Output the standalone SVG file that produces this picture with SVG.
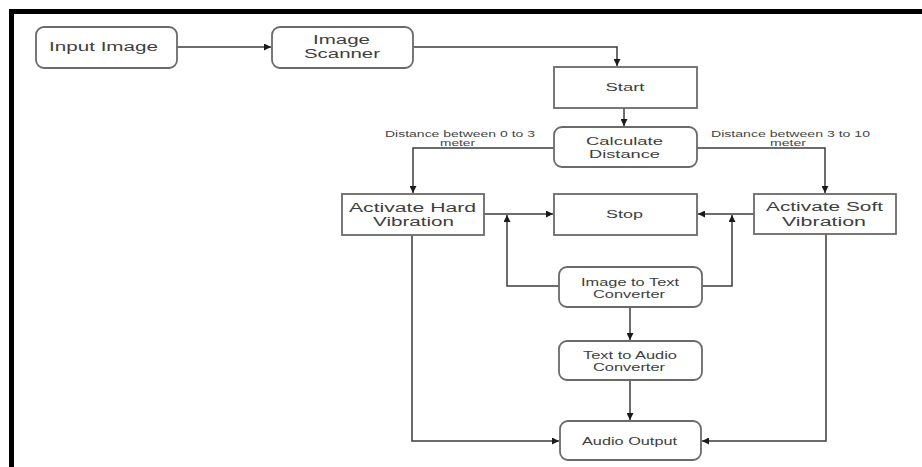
<svg xmlns="http://www.w3.org/2000/svg" width="922" height="467" viewBox="0 0 922 467">
  <style>
    .box { fill: #ffffff; stroke: #6a6a6a; stroke-width: 1.8; }
    .t { font-family: "Liberation Sans", Arial, sans-serif; fill: #3e3e3e; text-anchor: middle; dominant-baseline: central; }
    .big { font-size: 12.5px; }
    .mid { font-size: 11.5px; }
    .sm { font-size: 10px; }
    .lbl { font-size: 8.5px; fill: #444444; }
    .edge { fill: none; stroke: #3c3c3c; stroke-width: 1.5; }
  </style>
  <defs>
    <marker id="arrow" viewBox="0 0 10 10" refX="10" refY="5" markerWidth="8" markerHeight="7" markerUnits="userSpaceOnUse" orient="auto">
      <path d="M0,0 L10,5 L0,10 z" fill="#1a1a1a"/>
    </marker>
  </defs>

  <rect x="0" y="0" width="922" height="467" fill="#ffffff"/>

  <!-- frame: heavy top and left rule -->
  <path d="M11.5,467 L11.5,11.5 L922,11.5" fill="none" stroke="#000000" stroke-width="5"/>

  <!-- connectors -->
  <g id="connectors">
    <path class="edge" d="M177,47 L271,47" marker-end="url(#arrow)"/>
    <path class="edge" d="M413,47 L617,47 L617,66" marker-end="url(#arrow)"/>
    <path class="edge" d="M624,108 L624,126" marker-end="url(#arrow)"/>
    <path class="edge" d="M554,148 L413,148 L413,193" marker-end="url(#arrow)"/>
    <path class="edge" d="M697,148 L825,148 L825,193" marker-end="url(#arrow)"/>
    <path class="edge" d="M484,214 L553,214" marker-end="url(#arrow)"/>
    <path class="edge" d="M754,214 L698,214" marker-end="url(#arrow)"/>
    <path class="edge" d="M559,286 L507,286 L507,215" marker-end="url(#arrow)"/>
    <path class="edge" d="M702,286 L732,286 L732,215" marker-end="url(#arrow)"/>
    <path class="edge" d="M630,307 L630,340" marker-end="url(#arrow)"/>
    <path class="edge" d="M630,380 L630,420" marker-end="url(#arrow)"/>
    <path class="edge" d="M412,235 L412,441 L559,441" marker-end="url(#arrow)"/>
    <path class="edge" d="M826,234 L826,441 L702,441" marker-end="url(#arrow)"/>
    <text class="t lbl" x="460" y="134" textLength="150" lengthAdjust="spacingAndGlyphs">Distance between 0 to 3</text>
    <text class="t lbl" x="457.5" y="142.5" textLength="35" lengthAdjust="spacingAndGlyphs">meter</text>
    <text class="t lbl" x="790.5" y="134" textLength="159" lengthAdjust="spacingAndGlyphs">Distance between 3 to 10</text>
    <text class="t lbl" x="788" y="142.5" textLength="36" lengthAdjust="spacingAndGlyphs">meter</text>
  </g>

  <!-- nodes -->
  <g id="input-image">
    <rect class="box" x="36" y="27" width="141" height="41" rx="8"/>
    <text class="t big" x="103.5" y="47" textLength="109" lengthAdjust="spacingAndGlyphs">Input Image</text>
  </g>
  <g id="image-scanner">
    <rect class="box" x="272" y="27" width="141" height="41" rx="8"/>
    <text class="t big" x="341.5" y="40" textLength="57" lengthAdjust="spacingAndGlyphs">Image</text>
    <text class="t big" x="342" y="54" textLength="76" lengthAdjust="spacingAndGlyphs">Scanner</text>
  </g>
  <g id="start">
    <rect class="box" x="554" y="67" width="143" height="41"/>
    <text class="t mid" x="625" y="87" textLength="39" lengthAdjust="spacingAndGlyphs">Start</text>
  </g>
  <g id="calculate-distance">
    <rect class="box" x="554" y="127" width="143" height="40" rx="8"/>
    <text class="t mid" x="624.5" y="141" textLength="77" lengthAdjust="spacingAndGlyphs">Calculate</text>
    <text class="t mid" x="624.5" y="154" textLength="71" lengthAdjust="spacingAndGlyphs">Distance</text>
  </g>
  <g id="activate-hard">
    <rect class="box" x="342" y="194" width="142" height="41"/>
    <text class="t big" x="412.5" y="208" textLength="127" lengthAdjust="spacingAndGlyphs">Activate Hard</text>
    <text class="t big" x="413.5" y="221.5" textLength="81" lengthAdjust="spacingAndGlyphs">Vibration</text>
  </g>
  <g id="stop">
    <rect class="box" x="554" y="194" width="143" height="41"/>
    <text class="t mid" x="624.5" y="214" textLength="37" lengthAdjust="spacingAndGlyphs">Stop</text>
  </g>
  <g id="activate-soft">
    <rect class="box" x="754" y="194" width="142" height="40"/>
    <text class="t big" x="824.5" y="207" textLength="117" lengthAdjust="spacingAndGlyphs">Activate Soft</text>
    <text class="t big" x="824" y="221.5" textLength="84" lengthAdjust="spacingAndGlyphs">Vibration</text>
  </g>
  <g id="image-to-text">
    <rect class="box" x="559" y="267" width="143" height="40" rx="8"/>
    <text class="t sm" x="630" y="282" textLength="98" lengthAdjust="spacingAndGlyphs">Image to Text</text>
    <text class="t sm" x="629" y="294" textLength="72" lengthAdjust="spacingAndGlyphs">Converter</text>
  </g>
  <g id="text-to-audio">
    <rect class="box" x="559" y="341" width="143" height="39" rx="8"/>
    <text class="t sm" x="630" y="355.5" textLength="94" lengthAdjust="spacingAndGlyphs">Text to Audio</text>
    <text class="t sm" x="629" y="367" textLength="72" lengthAdjust="spacingAndGlyphs">Converter</text>
  </g>
  <g id="audio-output">
    <rect class="box" x="560" y="421" width="141" height="39" rx="8"/>
    <text class="t sm" x="629.5" y="441" textLength="95" lengthAdjust="spacingAndGlyphs">Audio Output</text>
  </g>
</svg>
